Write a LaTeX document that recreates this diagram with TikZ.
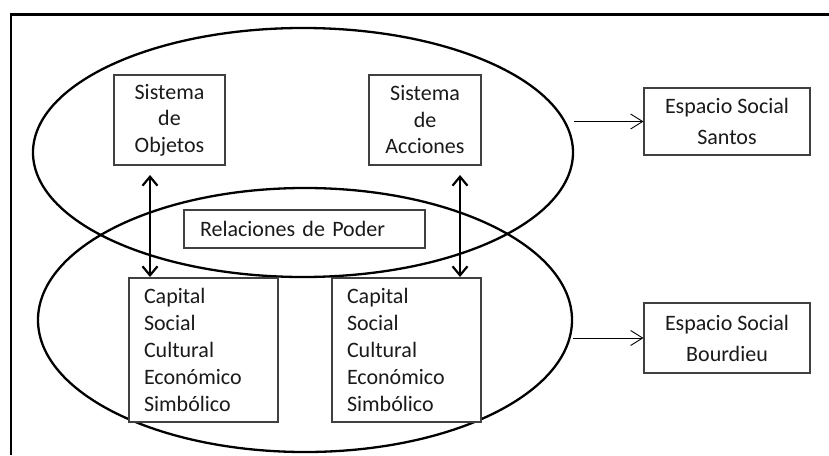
\documentclass[tikz,border=0pt]{standalone}
\usepackage{fontspec}
\setmainfont{Carlito}
\usetikzlibrary{shapes.geometric,arrows.meta}
\definecolor{boxline}{HTML}{404040}
\definecolor{txt}{HTML}{1A1A1A}
\tikzset{
  ell/.style={draw=black,line width=2.3pt,ellipse,inner sep=0pt},
  sbox/.style={draw=boxline,line width=1.1pt,fill=white,text=txt,inner sep=0pt},
  sistema/.style={sbox,align=center,font=\fontsize{22}{26.5}\selectfont},
  espacio/.style={sbox,align=center,font=\fontsize{22}{31}\selectfont},
  capbox/.style={sbox,align=left,text width=119pt,inner xsep=15pt,font=\fontsize{22}{27}\selectfont},
  relbox/.style={sbox,align=left,text width=209pt,inner xsep=16pt,font=\fontsize{22}{27}\selectfont},
  dblarr/.style={line width=2.2pt,{Straight Barb[length=9pt,width=15pt]}-{Straight Barb[length=9pt,width=15pt]}},
  thinarr/.style={line width=0.9pt,-{Straight Barb[length=12pt,width=15pt]}}
}
\begin{document}
\begin{tikzpicture}[x=1pt,y=-1pt]
\useasboundingbox (0,0) rectangle (829,455);
% frame
\draw[line width=2.7pt] (829,14.5) -- (11,14.5) -- (11,455);
% ellipses
\node[ell,minimum width=540pt,minimum height=249pt] (topE) at (303,152.5) {};
\node[ell,minimum width=534pt,minimum height=264pt] (botE) at (305,320) {};
% boxes
\node[sistema,minimum width=111pt,minimum height=90pt] (obj) at (169.5,120) {Sistema\\de\\Objetos};
\node[sistema,minimum width=112pt,minimum height=90pt] (acc) at (425,120) {Sistema\\de\\Acciones};
\node[espacio,minimum width=166pt,minimum height=67pt] (santos) at (727,121.5) {Espacio Social\\Santos};
\node[espacio,minimum width=166pt,minimum height=70pt] (bourdieu) at (727,338) {Espacio Social\\Bourdieu};
\node[relbox,minimum height=38pt] (rel) at (304.5,229) {Relaciones de Poder};
\node[capbox,minimum height=144pt] (cap1) at (203.5,350) {Capital\\Social\\Cultural\\Económico\\Simbólico};
\node[capbox,minimum height=144pt] (cap2) at (406.5,350) {Capital\\Social\\Cultural\\Económico\\Simbólico};
% double arrows
\coordinate (l1) at (150,175);
\coordinate (l2) at (150,277);
\coordinate (r1) at (460,175);
\coordinate (r2) at (460,277);
\draw[dblarr] (l1) -- (l2);
\draw[dblarr] (r1) -- (r2);
% thin arrows
\draw[thinarr] (santos.west -| topE.east) -- (santos.west);
\draw[thinarr] (bourdieu.west -| botE.east) -- (bourdieu.west);
\end{tikzpicture}
\end{document}
